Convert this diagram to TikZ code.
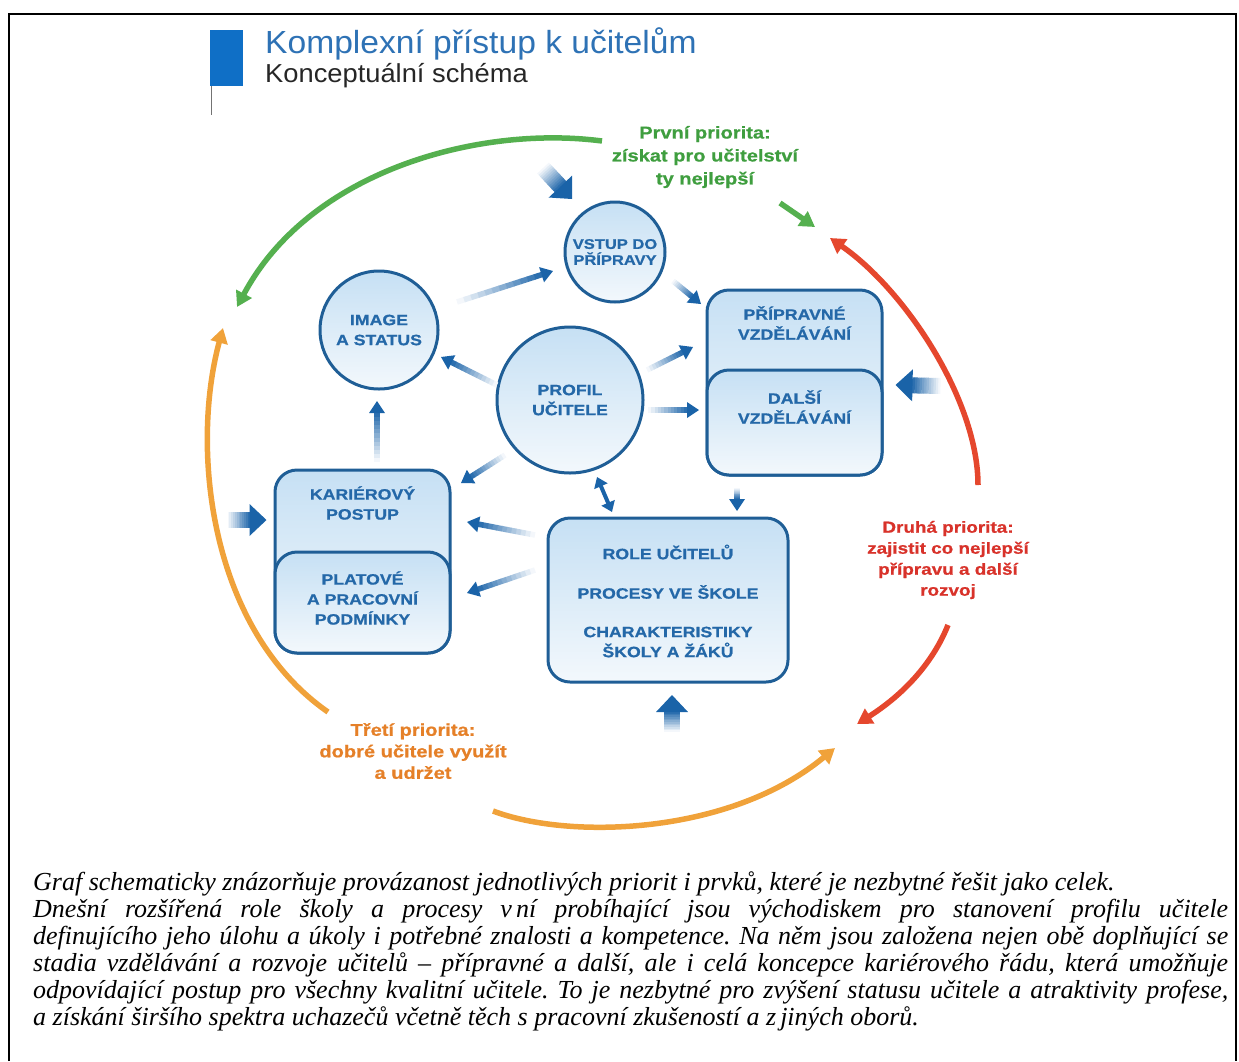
\documentclass[tikz,border=0pt]{standalone}
\usepackage{fontspec}
\setmainfont{Liberation Serif}
\newfontfamily\tsans[FakeStretch=1.05]{Liberation Sans}
\newfontfamily\wsans[FakeStretch=1.18,BoldFeatures={FakeBold=0.8}]{Liberation Sans}
\usetikzlibrary{arrows.meta,calc}
\definecolor{nblue}{HTML}{1F5E96}
\definecolor{tblue}{HTML}{2468A8}
\definecolor{ablue}{HTML}{1A63A8}
\definecolor{fillA}{HTML}{C6E0F4}
\definecolor{fillB}{HTML}{F3F8FC}
\definecolor{gr}{HTML}{55B04F}
\definecolor{rd}{HTML}{E5472D}
\definecolor{og}{HTML}{F0A23A}
\definecolor{grt}{HTML}{3F9E3F}
\definecolor{rdt}{HTML}{D8322A}
\definecolor{ogt}{HTML}{E58028}
\definecolor{titleblue}{HTML}{2E72B5}
\definecolor{barblue}{HTML}{0F6FC6}
\newcommand\lblfont{\wsans\bfseries\fontsize{15}{20}\selectfont}
\newcommand\vstfont{\wsans\bfseries\fontsize{14}{16}\selectfont}
\newcommand\priog{\wsans\bfseries\fontsize{17}{23}\selectfont}
\newcommand\prior{\wsans\bfseries\fontsize{16}{21}\selectfont}
\newcommand\prioo{\wsans\bfseries\fontsize{17}{21.5}\selectfont}
\newcommand\capfont{\itshape\fontsize{26}{27}\selectfont\frenchspacing}
% gradient arrow: tail, tip, shaft half width, head half width, head length
\newcommand\garrow[5]{%
  \path let \p1=#1, \p2=#2 in \pgfextra{%
    \pgfmathsetmacro\tmpa{atan2(\y2-\y1,\x2-\x1)}\global\let\gang\tmpa
    \pgfmathsetmacro\tmpb{veclen(\x2-\x1,\y2-\y1)}\global\let\glen\tmpb};
  \begin{scope}[shift={#1},rotate=\gang]
    \pgfmathsetmacro\gshaft{\glen-#5}
    \foreach \k in {0,...,11}{%
      \pgfmathsetmacro\ga{\gshaft*\k/12}%
      \pgfmathsetmacro\gb{\gshaft*(\k+1)/12+0.4}%
      \pgfmathtruncatemacro\gc{5+\k*95/12}%
      \fill[ablue!\gc!white] (\ga pt,-#3 pt) rectangle (\gb pt,#3 pt);
    }
    \fill[ablue] (\gshaft pt,-#4 pt) -- (\glen pt,0pt) -- (\gshaft pt,#4 pt) -- cycle;
  \end{scope}}
\tikzset{
  circ/.style={circle, draw=nblue, line width=3pt, top color=fillA, bottom color=fillB, inner sep=0pt, text=tblue, align=center, font=\lblfont},
  rbox/.style={rectangle, rounded corners=22pt, draw=nblue, line width=3pt, top color=fillA, bottom color=fillB},
  lbl/.style={text=tblue, font=\lblfont, align=center, inner sep=0pt},
  prio/.style={align=center, inner sep=0pt},
  ring/.style={line width=5.5pt, -{Triangle[length=15pt,width=17pt]}},
  capline/.style={anchor=base west, inner sep=0pt, font=\capfont},
}
\begin{document}
\begin{tikzpicture}[x=1pt,y=-1pt]
\useasboundingbox (0,0) rectangle (1239,1061);
% frame
\draw[line width=2pt] (9,1061) -- (9,14) -- (1236,14) -- (1236,1061);
% title
\fill[barblue] (210,30) rectangle (243,86);
\draw[black!55, line width=1pt] (211,86) -- (211,115);
\node[anchor=base west, inner sep=0pt, text=titleblue, font=\tsans\fontsize{32}{36}\selectfont] (title) at (265,53) {Komplexní přístup k učitelům};
\node[anchor=base west, inner sep=0pt, text=black!85, font=\tsans\fontsize{26}{30}\selectfont] (subtitle) at (265,82) {Konceptuální schéma};

% ring arcs
\coordinate (g0) at (602,141); \coordinate (g1) at (237,307);
\draw[ring, gr] (g0) .. controls (480,125) and (310,170) .. (g1);
\coordinate (g2) at (780,203); \coordinate (g3) at (815,227);
\draw[ring, gr] (g2) -- (g3);
\coordinate (r0) at (978,485); \coordinate (r1) at (830,238);
\draw[ring, rd] (r0) .. controls (978,400) and (905,290) .. (r1);
\coordinate (r2) at (948,625); \coordinate (r3) at (857,724);
\draw[ring, rd] (r2) .. controls (930,670) and (895,700) .. (r3);
\coordinate (o0) at (493,811); \coordinate (o1) at (835,748);
\draw[ring, og] (o0) .. controls (570,840) and (730,835) .. (o1);
\coordinate (o2) at (328,712); \coordinate (o3) at (223,328);
\draw[ring, og] (o2) .. controls (210,630) and (190,450) .. (o3);

% priority texts
\node[prio, text=grt, font=\priog] (p1) at (705,157) {První priorita:\\získat pro učitelství\\ty nejlepší};
\node[prio, text=rdt, font=\prior] (p2) at (948,560) {Druhá priorita:\\zajistit co nejlepší\\přípravu a další\\rozvoj};
\node[prio, text=ogt, font=\prioo] (p3) at (413,751) {Třetí priorita:\\dobré učitele využít\\a udržet};

% nodes
\node[circ, minimum size=100pt, font=\vstfont] (vstup) at (615,252) {VSTUP DO\\PŘÍPRAVY};
\node[circ, minimum size=118pt] (image) at (379,330) {IMAGE\\A STATUS};
\node[circ, minimum size=146pt] (profil) at (570,400) {PROFIL\\UČITELE};
\node[rbox, minimum width=175pt, minimum height=185pt] (prip) at (794.5,382.5) {};
\node[rbox, minimum width=175pt, minimum height=105pt] (dalsi) at (794.5,422.5) {};
\node[lbl] (pript) at (794.5,323) {PŘÍPRAVNÉ\\VZDĚLÁVÁNÍ};
\node[lbl] (dalsit) at (794.5,407) {DALŠÍ\\VZDĚLÁVÁNÍ};
\node[rbox, minimum width=175pt, minimum height=183pt] (kariera) at (362.5,561.5) {};
\node[rbox, minimum width=175pt, minimum height=101pt] (platove) at (362.5,602.5) {};
\node[lbl] (karierat) at (362.5,503) {KARIÉROVÝ\\POSTUP};
\node[lbl] (platovet) at (362.5,598) {PLATOVÉ\\A PRACOVNÍ\\PODMÍNKY};
\node[rbox, minimum width=240pt, minimum height=164pt] (role) at (668,600) {};
\node[lbl] (rolet1) at (668,552) {ROLE UČITELŮ};
\node[lbl] (rolet2) at (668,592) {PROCESY VE ŠKOLE};
\node[lbl] (rolet3) at (668,642) {CHARAKTERISTIKY\\ŠKOLY A ŽÁKŮ};

% input block arrows
\garrow{($(vstup)+(-72,-84)$)}{($(vstup)+(-43,-53)$)}{8}{16}{17}
\garrow{($(kariera)+(-135,-41.5)$)}{($(kariera)+(-96,-41.5)$)}{8}{16}{17}
\garrow{($(dalsi)+(146,-36.5)$)}{($(dalsi)+(101,-37.5)$)}{8}{16}{17}
\garrow{($(role)+(4,132)$)}{($(role)+(4,95)$)}{8}{16}{17}

% connector arrows
\garrow{($(image)+(78,-28)$)}{($(vstup)+(-62,19)$)}{2.8}{8}{12}
\garrow{($(vstup)+(58,29)$)}{($(prip)+(-93.5,-78.5)$)}{2.8}{8}{12}
\garrow{($(profil)+(-73,-15)$)}{($(image)+(62,27)$)}{2.8}{8}{12}
\garrow{($(profil)+(77,-30)$)}{($(prip)+(-101.5,-35.5)$)}{2.8}{8}{12}
\garrow{($(profil)+(78,10)$)}{($(dalsi)+(-95.5,-12.5)$)}{2.8}{8}{12}
\garrow{($(profil)+(-65,55)$)}{($(kariera)+(98.5,-78.5)$)}{2.8}{8}{12}
\garrow{($(kariera)+(14.5,-99.5)$)}{($(image)+(-2,71)$)}{2.8}{8}{12}
\garrow{($(role)+(-133,-65)$)}{($(kariera)+(104.5,-39.5)$)}{2.8}{8}{12}
\garrow{($(role)+(-133,-30)$)}{($(kariera)+(104.5,31.5)$)}{2.8}{8}{12}
\garrow{($(dalsi)+(-57.5,65.5)$)}{($(role)+(69,-89)$)}{2.8}{8}{12}
\draw[ablue, line width=4pt, {Triangle[length=10pt,width=14pt]}-{Triangle[length=10pt,width=14pt]}] ($(profil)+(27,77)$) -- ($(role)+(-56,-88)$);

% caption
\node[capline] (c1) at (33,890) {Graf schematicky znázorňuje provázanost jednotlivých priorit i prvků, které je nezbytné řešit jako celek.};
\node[capline] (c2) at (33,917) {\makebox[1195pt][s]{Dnešní rozšířená role školy a procesy v\kern4pt ní probíhající jsou východiskem pro stanovení profilu učitele}};
\node[capline] (c3) at (33,944) {\makebox[1195pt][s]{definujícího jeho úlohu a úkoly i potřebné znalosti a kompetence. Na něm jsou založena nejen obě doplňující se}};
\node[capline] (c4) at (33,971) {\makebox[1195pt][s]{stadia vzdělávání a rozvoje učitelů – přípravné a další, ale i celá koncepce kariérového řádu, která umožňuje}};
\node[capline] (c5) at (33,998) {\makebox[1195pt][s]{odpovídající postup pro všechny kvalitní učitele. To je nezbytné pro zvýšení statusu učitele a atraktivity profese,}};
\node[capline] (c6) at (33,1025) {a získání širšího spektra uchazečů včetně těch s pracovní zkušeností a z\kern4pt jiných oborů.};
\end{tikzpicture}
\end{document}
